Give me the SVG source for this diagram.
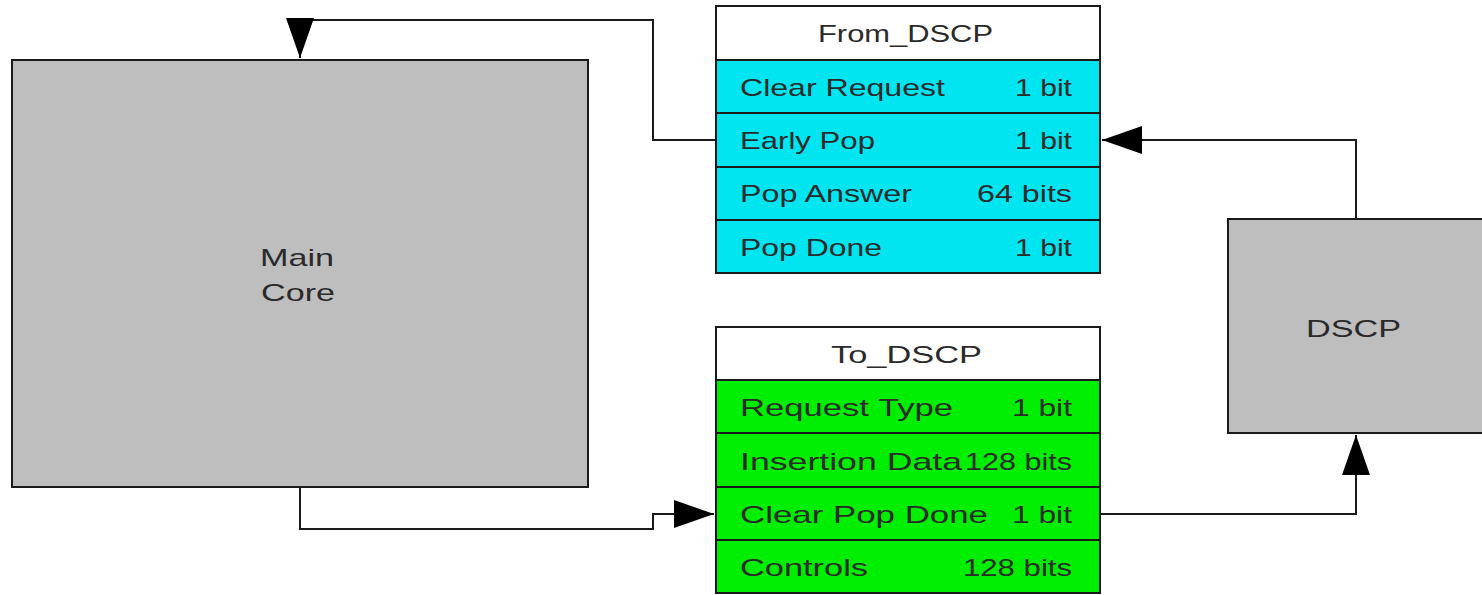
<svg xmlns="http://www.w3.org/2000/svg" width="1482" height="595" viewBox="0 0 1482 595">
<style>
.box{stroke:#1a1a1a;stroke-width:2}
.gray{fill:#bebebe}
.cyan{fill:#00e5f0}
.green{fill:#00ee00}
.hdr{fill:#ffffff}
.t{font-family:"Liberation Sans",Arial,sans-serif;font-size:24px;fill:#2a2a2a}
.e{stroke:#1a1a1a;stroke-width:2;fill:none}
</style>
<defs>
<marker id="ah" markerUnits="userSpaceOnUse" markerWidth="42" markerHeight="30" refX="40" refY="14" orient="auto">
<path d="M0,0 L40,14 L0,28 Z" fill="#000"/>
</marker>
</defs>
<g id="connectors">
<path class="e" d="M716,140 H653 V20 H300 V58" marker-end="url(#ah)"/>
<path class="e" d="M1356,219 V140 H1102" marker-end="url(#ah)"/>
<path class="e" d="M1100,514 H1356 V435" marker-end="url(#ah)"/>
<path class="e" d="M300,487 V529 H653 V514 H714" marker-end="url(#ah)"/>
</g>
<g id="main-core">
<rect class="box gray" x="12" y="60" width="576" height="427"/>
<text class="t" x="297" y="266" text-anchor="middle" textLength="74" lengthAdjust="spacingAndGlyphs">Main</text>
<text class="t" x="298" y="301" text-anchor="middle" textLength="74" lengthAdjust="spacingAndGlyphs">Core</text>
</g>
<g id="from-dscp">
<rect class="box hdr" x="716" y="6" width="384" height="54"/>
<rect class="box cyan" x="716" y="60" width="384" height="53"/>
<rect class="box cyan" x="716" y="113" width="384" height="54"/>
<rect class="box cyan" x="716" y="167" width="384" height="53"/>
<rect class="box cyan" x="716" y="220" width="384" height="53"/>
<text class="t" x="818" y="42" textLength="175" lengthAdjust="spacingAndGlyphs">From_DSCP</text>
<text class="t" x="740" y="96" textLength="205" lengthAdjust="spacingAndGlyphs">Clear Request</text>
<text class="t" x="1015" y="96" textLength="57" lengthAdjust="spacingAndGlyphs">1 bit</text>
<text class="t" x="740" y="149" textLength="135" lengthAdjust="spacingAndGlyphs">Early Pop</text>
<text class="t" x="1015" y="149" textLength="57" lengthAdjust="spacingAndGlyphs">1 bit</text>
<text class="t" x="740" y="202" textLength="172" lengthAdjust="spacingAndGlyphs">Pop Answer</text>
<text class="t" x="977" y="202" textLength="95" lengthAdjust="spacingAndGlyphs">64 bits</text>
<text class="t" x="740" y="256" textLength="142" lengthAdjust="spacingAndGlyphs">Pop Done</text>
<text class="t" x="1015" y="256" textLength="57" lengthAdjust="spacingAndGlyphs">1 bit</text>
</g>
<g id="to-dscp">
<rect class="box hdr" x="716" y="327" width="384" height="53"/>
<rect class="box green" x="716" y="380" width="384" height="53"/>
<rect class="box green" x="716" y="433" width="384" height="54"/>
<rect class="box green" x="716" y="487" width="384" height="53"/>
<rect class="box green" x="716" y="540" width="384" height="53"/>
<text class="t" x="831" y="363" textLength="151" lengthAdjust="spacingAndGlyphs">To_DSCP</text>
<text class="t" x="740" y="416" textLength="213" lengthAdjust="spacingAndGlyphs">Request Type</text>
<text class="t" x="1012" y="416" textLength="60" lengthAdjust="spacingAndGlyphs">1 bit</text>
<text class="t" x="740" y="470" textLength="222" lengthAdjust="spacingAndGlyphs">Insertion Data</text>
<text class="t" x="965" y="470" textLength="107" lengthAdjust="spacingAndGlyphs">128 bits</text>
<text class="t" x="740" y="523" textLength="248" lengthAdjust="spacingAndGlyphs">Clear Pop Done</text>
<text class="t" x="1012" y="523" textLength="60" lengthAdjust="spacingAndGlyphs">1 bit</text>
<text class="t" x="740" y="576" textLength="128" lengthAdjust="spacingAndGlyphs">Controls</text>
<text class="t" x="963" y="576" textLength="109" lengthAdjust="spacingAndGlyphs">128 bits</text>
</g>
<g id="dscp">
<rect class="box gray" x="1228" y="219" width="260" height="214"/>
<text class="t" x="1306" y="337" textLength="95" lengthAdjust="spacingAndGlyphs">DSCP</text>
</g>
</svg>
